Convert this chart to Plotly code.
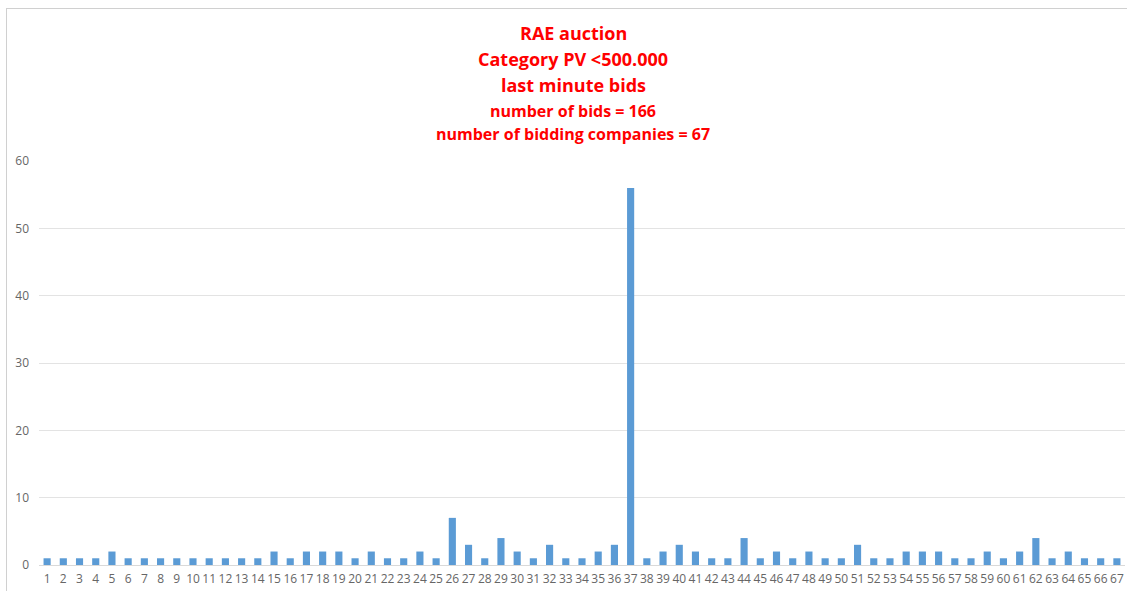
import plotly.graph_objects as go

categories = [str(i) for i in range(1, 68)]
bids = [1, 1, 1, 1, 2, 1, 1, 1, 1, 1,
        1, 1, 1, 1, 2, 1, 2, 2, 2, 1,
        2, 1, 1, 2, 1, 7, 3, 1, 4, 2,
        1, 3, 1, 1, 2, 3, 56, 1, 2, 3,
        2, 1, 1, 4, 1, 2, 1, 2, 1, 1,
        3, 1, 1, 2, 2, 2, 1, 1, 2, 1,
        2, 4, 1, 2, 1, 1, 1]
y_ticks = [0, 10, 20, 30, 40, 50, 60]

title_lines = [
    ("RAE auction", 18),
    ("Category PV <500.000", 18),
    ("last minute bids", 18),
    ("number of bids = 166", 16),
    ("number of bidding companies = 67", 16),
]
title_y_px = [33, 59, 85, 111, 134]

W, H = 1128, 592
L, R, T, B = 39, 3, 161, 27
pw, ph = W - L - R, H - T - B

fig = go.Figure(go.Bar(x=categories, y=bids, marker_color="#5B9BD5",
                       marker_line_width=0))

annotations = []
for (txt, sz), ypx in zip(title_lines, title_y_px):
    annotations.append(dict(
        text=f"<b>{txt}</b>", xref="paper", yref="paper",
        x=(573 - L) / pw, y=(H - B - ypx) / ph, xanchor="center", yanchor="middle",
        showarrow=False, font=dict(family="Open Sans, Carlito, sans-serif", size=sz, color="#FF0000")))

fig.update_layout(
    width=W, height=H,
    margin=dict(l=L, r=R, t=T, b=B),
    paper_bgcolor="white", plot_bgcolor="white",
    bargap=0.56, showlegend=False,
    annotations=annotations,
    font=dict(family="Open Sans, sans-serif", size=12, color="#595959"),
    xaxis=dict(type="category", showgrid=False, showline=True, linecolor="#D9D9D9",
               linewidth=1, ticks="", tickfont=dict(size=12, color="#666666"),
               tickangle=0, ticklabelstandoff=3),
    yaxis=dict(range=[0, 60], tickvals=y_ticks, showgrid=True, gridcolor="#E3E3E3",
               zeroline=False, showline=False, ticks="", ticklabelstandoff=9,
               tickfont=dict(size=12, color="#666666")),
    shapes=[
        dict(type="line", xref="paper", yref="paper",
             x0=(6.5 - L) / pw, x1=(6.5 - L) / pw, y0=(H - B - 591) / ph, y1=(H - B - 8) / ph,
             line=dict(color="#D0D0D0", width=1)),
        dict(type="line", xref="paper", yref="paper",
             x0=(6.5 - L) / pw, x1=(1127 - L) / pw, y0=(H - B - 8.5) / ph, y1=(H - B - 8.5) / ph,
             line=dict(color="#D0D0D0", width=1)),
    ],
)

fig.write_html("out.html", config={"displayModeBar": False},
               post_script="document.body.style.margin='0';document.body.style.overflow='hidden';")
